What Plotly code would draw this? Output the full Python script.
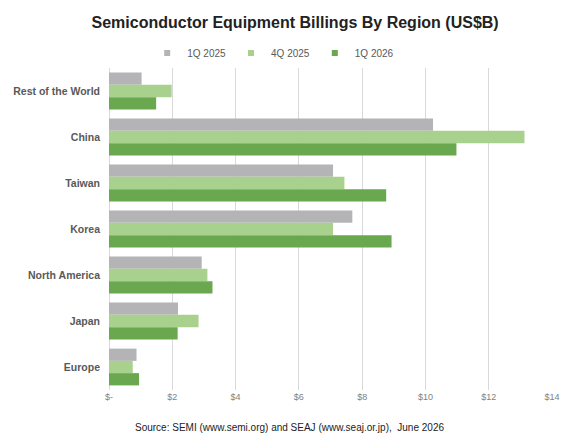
import plotly.graph_objects as go

regions = ["Rest of the World", "China", "Taiwan", "Korea", "North America", "Japan", "Europe"]
q1_2025 = [1.03, 10.24, 7.08, 7.69, 2.93, 2.18, 0.87]
q4_2025 = [1.98, 13.13, 7.44, 7.08, 3.11, 2.83, 0.75]
q1_2026 = [1.49, 10.98, 8.76, 8.93, 3.27, 2.17, 0.95]
series_names = ["1Q 2025", "4Q 2025", "1Q 2026"]
tick_vals = [0, 2, 4, 6, 8, 10, 12, 14]
tick_text = ["$-", "$2", "$4", "$6", "$8", "$10", "$12", "$14"]

colors = ["#b4b4b6", "#a9d18e", "#6aa84f"]
FONT = "Liberation Sans, Arial, sans-serif"

# plot area in pixels
L, R, T, B = 109, 552, 68, 390
W, H = 561, 434

fig = go.Figure()
for name, vals, c in zip(series_names, [q1_2025, q4_2025, q1_2026], colors):
    fig.add_trace(go.Bar(y=regions, x=vals, name=name, orientation="h",
                         legendgroup=name, showlegend=False,
                         marker=dict(color=c, line=dict(width=0))))
# small square legend keys
for name, c in zip(series_names, colors):
    fig.add_trace(go.Scatter(x=[None], y=[None], mode="markers", name=name,
                             legendgroup=name, showlegend=True,
                             marker=dict(symbol="square", size=6, color=c)))

fig.update_layout(
    width=W, height=H,
    margin=dict(l=L, r=W - R, t=T, b=H - B, autoexpand=False),
    paper_bgcolor="white", plot_bgcolor="white",
    barmode="group", bargap=0.2, bargroupgap=0,
    font=dict(family=FONT, color="#595959"),
    title=dict(text="<b>Semiconductor Equipment Billings By Region (US$B)</b>",
               x=0.526, xanchor="center", y=1 - 22/H, yanchor="middle",
               xref="container", yref="container",
               font=dict(size=16, color="#222222", family=FONT)),
    legend=dict(orientation="h", x=0.487, xanchor="center", y=1 - 53/H, yanchor="middle",
                xref="container", yref="container",
                font=dict(size=10, color="#595959"), traceorder="normal",
                itemwidth=30, bgcolor="rgba(0,0,0,0)"),
    xaxis=dict(range=[0, 14], tickvals=tick_vals, ticktext=tick_text,
               showgrid=True, gridcolor="#d9d9d9", gridwidth=1,
               zeroline=True, zerolinecolor="#d9d9d9", zerolinewidth=1,
               showline=False, ticks="", ticklen=0, automargin=False,
               tickfont=dict(size=9, color="#7f7f7f")),
    yaxis=dict(autorange="reversed", showgrid=False, zeroline=False, showline=False,
               ticks="", ticklabelstandoff=8, automargin=False,
               tickfont=dict(size=10.5, color="#595959", family=FONT)),
    annotations=[dict(text="Source: SEMI (www.semi.org) and SEAJ (www.seaj.or.jp),  June 2026",
                      x=(289 - L) / (R - L), y=(B - 427) / (B - T), xref="paper", yref="paper",
                      xanchor="center", yanchor="middle", showarrow=False,
                      font=dict(size=10, color="#222222"))]
)
fig.update_yaxes(tickprefix="<b>", ticksuffix="</b>")
fig.write_html("out.html", config={"displayModeBar": False},
               post_script="document.body.style.margin='0px';")
